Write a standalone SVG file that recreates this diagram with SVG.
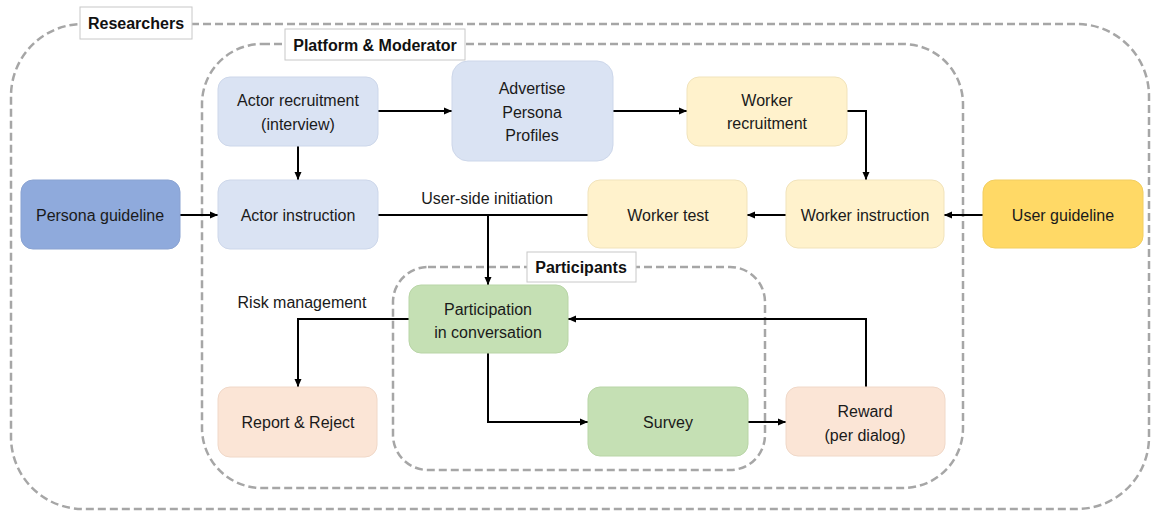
<svg xmlns="http://www.w3.org/2000/svg" width="1151" height="512" viewBox="0 0 1151 512">
<defs>
<marker id="arr" markerWidth="9" markerHeight="8" refX="8" refY="4" orient="auto" markerUnits="userSpaceOnUse">
<path d="M0,0.5 L8,4 L0,7.5 z" fill="#000"/>
</marker>
<style>
.grp{fill:none;stroke:#a6a6a6;stroke-width:2.5;stroke-dasharray:8,4}
.lab{fill:#fff;stroke:#c8c8c8;stroke-width:1}
.labt{font-family:"Liberation Sans",Arial,sans-serif;font-size:16px;font-weight:bold;fill:#111;text-anchor:middle;dominant-baseline:central}
.t{font-family:"Liberation Sans",Arial,sans-serif;font-size:16px;fill:#1a1a1a;text-anchor:middle;dominant-baseline:central}
.blue{fill:#dae3f3;stroke:#cdd7ea;stroke-width:1}
.dblue{fill:#8faadc;stroke:#8aa3d2;stroke-width:1}
.yel{fill:#fff2cc;stroke:#f1e3bb;stroke-width:1}
.dyel{fill:#ffd966;stroke:#f2ce60;stroke-width:1}
.grn{fill:#c5e0b4;stroke:#b9d5a7;stroke-width:1}
.pch{fill:#fbe5d6;stroke:#f0d8c8;stroke-width:1}
.c{fill:none;stroke:#000;stroke-width:2}
</style>
</defs>
<g id="groups">
<rect class="grp" x="11" y="24" width="1138" height="485" rx="72" ry="72"/>
<rect class="grp" x="202" y="44" width="761" height="444" rx="60" ry="60"/>
<rect class="grp" x="393" y="267" width="372" height="203" rx="35" ry="35"/>
<g id="lab-researchers"><rect class="lab" x="80" y="7" width="112" height="32"/><text class="labt" x="136" y="23">Researchers</text></g>
<g id="lab-platform"><rect class="lab" x="285" y="29" width="180" height="31"/><text class="labt" x="375" y="45">Platform &amp; Moderator</text></g>
<g id="lab-participants"><rect class="lab" x="527" y="252" width="109" height="30"/><text class="labt" x="581" y="267">Participants</text></g>
</g>
<g id="connectors">
<line class="c" x1="378" y1="111" x2="452" y2="111" marker-end="url(#arr)"/>
<line class="c" x1="613" y1="111" x2="687" y2="111" marker-end="url(#arr)"/>
<polyline class="c" points="847,111 866,111 866,180" marker-end="url(#arr)"/>
<line class="c" x1="298" y1="146" x2="298" y2="180" marker-end="url(#arr)"/>
<line class="c" x1="180" y1="215" x2="218" y2="215" marker-end="url(#arr)"/>
<line class="c" x1="983" y1="215" x2="944" y2="215" marker-end="url(#arr)"/>
<line class="c" x1="786" y1="215" x2="747" y2="215" marker-end="url(#arr)"/>
<line class="c" x1="378" y1="215" x2="588" y2="215"/>
<line class="c" x1="488" y1="215" x2="488" y2="285" marker-end="url(#arr)"/>
<polyline class="c" points="409,319 298,319 298,387" marker-end="url(#arr)"/>
<polyline class="c" points="488,353 488,422 588,422" marker-end="url(#arr)"/>
<line class="c" x1="748" y1="422" x2="786" y2="422" marker-end="url(#arr)"/>
<polyline class="c" points="866,387 866,319 568,319" marker-end="url(#arr)"/>
<text class="t" x="487" y="198">User-side initiation</text>
<text class="t" x="302" y="302">Risk management</text>
</g>
<g id="actor-recruitment"><rect class="blue" x="218" y="77" width="160" height="69" rx="12"/><text class="t" x="298" y="100">Actor recruitment</text><text class="t" x="298" y="124">(interview)</text></g>
<g id="advertise"><rect class="blue" x="452" y="61" width="161" height="100" rx="16"/><text class="t" x="532" y="88">Advertise</text><text class="t" x="532" y="112">Persona</text><text class="t" x="532" y="135">Profiles</text></g>
<g id="worker-recruitment"><rect class="yel" x="687" y="77" width="160" height="69" rx="12"/><text class="t" x="767" y="100">Worker</text><text class="t" x="767" y="123">recruitment</text></g>
<g id="persona-guideline"><rect class="dblue" x="21" y="180" width="159" height="69" rx="12"/><text class="t" x="100" y="215">Persona guideline</text></g>
<g id="actor-instruction"><rect class="blue" x="218" y="180" width="160" height="69" rx="12"/><text class="t" x="298" y="215">Actor instruction</text></g>
<g id="worker-test"><rect class="yel" x="588" y="180" width="159" height="68" rx="12"/><text class="t" x="668" y="215">Worker test</text></g>
<g id="worker-instruction"><rect class="yel" x="786" y="180" width="158" height="68" rx="12"/><text class="t" x="865" y="215">Worker instruction</text></g>
<g id="user-guideline"><rect class="dyel" x="983" y="180" width="160" height="68" rx="12"/><text class="t" x="1063" y="215">User guideline</text></g>
<g id="participation"><rect class="grn" x="409" y="285" width="159" height="68" rx="12"/><text class="t" x="488" y="309">Participation</text><text class="t" x="488" y="332">in conversation</text></g>
<g id="report-reject"><rect class="pch" x="218" y="387" width="159" height="70" rx="12"/><text class="t" x="298" y="422">Report &amp; Reject</text></g>
<g id="survey"><rect class="grn" x="588" y="387" width="160" height="69" rx="12"/><text class="t" x="668" y="422">Survey</text></g>
<g id="reward"><rect class="pch" x="786" y="387" width="159" height="69" rx="12"/><text class="t" x="865" y="411">Reward</text><text class="t" x="865" y="435">(per dialog)</text></g>
</svg>
